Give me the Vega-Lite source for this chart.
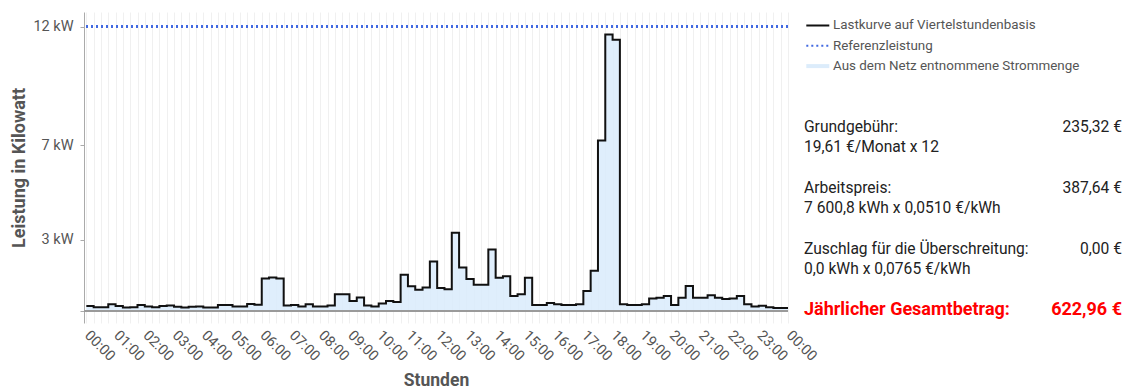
{
  "$schema": "https://vega.github.io/schema/vega-lite/v6.json",
  "padding": {"left": 10, "top": 12, "right": 8, "bottom": 0},
  "autosize": {"type": "pad"},
  "bounds": "flush",
  "spacing": 16,
  "config": {"font": "Roboto", "view": {"stroke": null}},
  "datasets": {
    "load": [
      {"h": 0, "kw": 0.20}, {"h": 0.25, "kw": 0.15}, {"h": 0.5, "kw": 0.15}, {"h": 0.75, "kw": 0.27},
      {"h": 1, "kw": 0.20}, {"h": 1.25, "kw": 0.13}, {"h": 1.5, "kw": 0.15}, {"h": 1.75, "kw": 0.24},
      {"h": 2, "kw": 0.18}, {"h": 2.25, "kw": 0.15}, {"h": 2.5, "kw": 0.20}, {"h": 2.75, "kw": 0.22},
      {"h": 3, "kw": 0.17}, {"h": 3.25, "kw": 0.14}, {"h": 3.5, "kw": 0.17}, {"h": 3.75, "kw": 0.18},
      {"h": 4, "kw": 0.14}, {"h": 4.25, "kw": 0.14}, {"h": 4.5, "kw": 0.24}, {"h": 4.75, "kw": 0.24},
      {"h": 5, "kw": 0.18}, {"h": 5.25, "kw": 0.18}, {"h": 5.5, "kw": 0.28}, {"h": 5.75, "kw": 0.25},
      {"h": 6, "kw": 1.36}, {"h": 6.25, "kw": 1.40}, {"h": 6.5, "kw": 1.36}, {"h": 6.75, "kw": 0.22},
      {"h": 7, "kw": 0.24}, {"h": 7.25, "kw": 0.18}, {"h": 7.5, "kw": 0.27}, {"h": 7.75, "kw": 0.18},
      {"h": 8, "kw": 0.18}, {"h": 8.25, "kw": 0.22}, {"h": 8.5, "kw": 0.69}, {"h": 8.75, "kw": 0.69},
      {"h": 9, "kw": 0.41}, {"h": 9.25, "kw": 0.56}, {"h": 9.5, "kw": 0.22}, {"h": 9.75, "kw": 0.18},
      {"h": 10, "kw": 0.30}, {"h": 10.25, "kw": 0.41}, {"h": 10.5, "kw": 0.37}, {"h": 10.75, "kw": 1.52},
      {"h": 11, "kw": 1.03}, {"h": 11.25, "kw": 0.89}, {"h": 11.5, "kw": 0.98}, {"h": 11.75, "kw": 2.08},
      {"h": 12, "kw": 0.96}, {"h": 12.25, "kw": 0.91}, {"h": 12.5, "kw": 3.29}, {"h": 12.75, "kw": 1.83},
      {"h": 13, "kw": 1.34}, {"h": 13.25, "kw": 1.10}, {"h": 13.5, "kw": 1.10}, {"h": 13.75, "kw": 2.59},
      {"h": 14, "kw": 1.39}, {"h": 14.25, "kw": 1.45}, {"h": 14.5, "kw": 0.62}, {"h": 14.75, "kw": 0.69},
      {"h": 15, "kw": 1.39}, {"h": 15.25, "kw": 0.24}, {"h": 15.5, "kw": 0.24}, {"h": 15.75, "kw": 0.32},
      {"h": 16, "kw": 0.27}, {"h": 16.25, "kw": 0.24}, {"h": 16.5, "kw": 0.24}, {"h": 16.75, "kw": 0.27},
      {"h": 17, "kw": 0.83}, {"h": 17.25, "kw": 1.69}, {"h": 17.5, "kw": 7.19}, {"h": 17.75, "kw": 11.67},
      {"h": 18, "kw": 11.45}, {"h": 18.25, "kw": 0.27}, {"h": 18.5, "kw": 0.24}, {"h": 18.75, "kw": 0.24},
      {"h": 19, "kw": 0.27}, {"h": 19.25, "kw": 0.52}, {"h": 19.5, "kw": 0.55}, {"h": 19.75, "kw": 0.62},
      {"h": 20, "kw": 0.24}, {"h": 20.25, "kw": 0.55}, {"h": 20.5, "kw": 1.04}, {"h": 20.75, "kw": 0.55},
      {"h": 21, "kw": 0.55}, {"h": 21.25, "kw": 0.65}, {"h": 21.5, "kw": 0.55}, {"h": 21.75, "kw": 0.49},
      {"h": 22, "kw": 0.52}, {"h": 22.25, "kw": 0.62}, {"h": 22.5, "kw": 0.27}, {"h": 22.75, "kw": 0.18},
      {"h": 23, "kw": 0.21}, {"h": 23.25, "kw": 0.15}, {"h": 23.5, "kw": 0.11}, {"h": 23.75, "kw": 0.11},
      {"h": 24, "kw": 0.11}
    ],
    "legend": [
      {"line": 0, "item": "Lastkurve auf Viertelstundenbasis"},
      {"line": 1, "item": "Referenzleistung"},
      {"line": 2, "item": "Aus dem Netz entnommene Strommenge"}
    ],
    "costs": [
      {"line": 5, "label": "Grundgebühr:", "amount": "235,32 €", "total": false},
      {"line": 6, "label": "19,61 €/Monat x 12", "amount": "", "total": false},
      {"line": 8, "label": "Arbeitspreis:", "amount": "387,64 €", "total": false},
      {"line": 9, "label": "7 600,8 kWh x 0,0510 €/kWh", "amount": "", "total": false},
      {"line": 11, "label": "Zuschlag für die Überschreitung:", "amount": "0,00 €", "total": false},
      {"line": 12, "label": "0,0 kWh x 0,0765 €/kWh", "amount": "", "total": false},
      {"line": 14, "label": "Jährlicher Gesamtbetrag:", "amount": "622,96 €", "total": true}
    ]
  },
  "hconcat": [
    {
      "width": 704,
      "height": 311,
      "data": {"name": "load"},
      "encoding": {
        "x": {
          "field": "h", "type": "quantitative",
          "scale": {"domain": [-0.08, 24], "nice": false, "zero": false},
          "axis": {
            "title": "Stunden",
            "titleFontSize": 17.5, "titleFontWeight": "bold", "titleColor": "#555", "titlePadding": 8,
            "values": [0,0.25,0.5,0.75,1,1.25,1.5,1.75,2,2.25,2.5,2.75,3,3.25,3.5,3.75,4,4.25,4.5,4.75,5,5.25,5.5,5.75,6,6.25,6.5,6.75,7,7.25,7.5,7.75,8,8.25,8.5,8.75,9,9.25,9.5,9.75,10,10.25,10.5,10.75,11,11.25,11.5,11.75,12,12.25,12.5,12.75,13,13.25,13.5,13.75,14,14.25,14.5,14.75,15,15.25,15.5,15.75,16,16.25,16.5,16.75,17,17.25,17.5,17.75,18,18.25,18.5,18.75,19,19.25,19.5,19.75,20,20.25,20.5,20.75,21,21.25,21.5,21.75,22,22.25,22.5,22.75,23,23.25,23.5,23.75,24],
            "labelExpr": "datum.value % 1 == 0 ? pad(toString(datum.value % 24), 2, '0', 'left') + ':00' : ''",
            "labelAngle": 45, "labelAlign": "left", "labelBaseline": "middle",
            "labelPadding": 10, "labelFontSize": 14.5, "labelColor": "#555",
            "labelOverlap": false, "labelFlush": false, "labelBound": false,
            "grid": true, "gridColor": "#f0f0f0", "gridWidth": 1,
            "ticks": false, "domain": false
          }
        },
        "y": {
          "field": "kw", "type": "quantitative",
          "scale": {"domain": [-0.52, 12.62], "nice": false, "zero": false},
          "axis": {
            "title": "Leistung in Kilowatt",
            "titleFontSize": 18, "titleFontWeight": "bold", "titleColor": "#555", "titlePadding": 4,
            "values": [0, 3, 7, 12],
            "labelExpr": "datum.value == 0 ? '' : datum.value + ' kW'",
            "labelFontSize": 14.5, "labelColor": "#555", "labelPadding": 7,
            "grid": false, "tickSize": 4, "tickColor": "#aaa", "domainColor": "#aaa"
          }
        }
      },
      "layer": [
        {
          "mark": {"type": "area", "interpolate": "step-after", "color": "#d9ebfc", "opacity": 0.85},
          "encoding": {"y2": {"datum": 0}}
        },
        {
          "mark": {"type": "rule", "color": "#9a9a9a", "strokeWidth": 1},
          "encoding": {"y": {"datum": 0}, "x": null}
        },
        {
          "mark": {"type": "line", "interpolate": "step-after", "color": "#111", "strokeWidth": 2}
        },
        {
          "mark": {"type": "rule", "color": "#4169e1", "strokeWidth": 2, "strokeDash": [2, 3]},
          "encoding": {"y": {"datum": 12}, "x": null}
        }
      ]
    },
    {
      "width": 318,
      "height": 311,
      "layer": [
        {
          "data": {"name": "legend"},
          "transform": [{"filter": "datum.line == 0"}],
          "mark": {"type": "point", "filled": false, "size": 529, "opacity": 1, "shape": "M-1,0H1", "stroke": "#111111", "strokeWidth": 2},
          "encoding": {
            "x": {"datum": 0.0434, "type": "quantitative", "scale": {"domain": [0, 1], "nice": false, "zero": false}, "axis": null},
            "y": {"field": "line", "type": "quantitative", "scale": {"domain": [-0.665, 14.655], "reverse": true, "nice": false, "zero": false}, "axis": null}
          }
        },
        {
          "data": {"name": "legend"},
          "transform": [{"filter": "datum.line == 1"}],
          "mark": {"type": "point", "filled": false, "size": 529, "opacity": 1, "shape": "M-1,0H1", "stroke": "#4169e1", "strokeWidth": 2, "strokeDash": [2, 3]},
          "encoding": {
            "x": {"datum": 0.0434, "type": "quantitative"},
            "y": {"field": "line", "type": "quantitative"}
          }
        },
        {
          "data": {"name": "legend"},
          "transform": [{"filter": "datum.line == 2"}],
          "mark": {"type": "point", "filled": false, "size": 529, "opacity": 1, "shape": "M-1,0H1", "stroke": "#dcecfb", "strokeWidth": 4},
          "encoding": {
            "x": {"datum": 0.0434, "type": "quantitative"},
            "y": {"field": "line", "type": "quantitative"}
          }
        },
        {
          "data": {"name": "legend"},
          "mark": {"type": "text", "align": "left", "baseline": "middle", "dx": 29, "fontSize": 13.4, "color": "#555"},
          "encoding": {
            "x": {"datum": 0, "type": "quantitative"},
            "y": {"field": "line", "type": "quantitative"},
            "text": {"field": "item"}
          }
        },
        {
          "data": {"name": "costs"},
          "transform": [{"filter": "!datum.total"}],
          "layer": [
            {
              "mark": {"type": "text", "align": "left", "baseline": "middle", "fontSize": 15.6, "color": "#222"},
              "encoding": {
                "x": {"datum": 0, "type": "quantitative"},
                "y": {"field": "line", "type": "quantitative"},
                "text": {"field": "label"}
              }
            },
            {
              "mark": {"type": "text", "align": "right", "baseline": "middle", "fontSize": 15.6, "color": "#222"},
              "encoding": {
                "x": {"datum": 1, "type": "quantitative"},
                "y": {"field": "line", "type": "quantitative"},
                "text": {"field": "amount"}
              }
            }
          ]
        },
        {
          "data": {"name": "costs"},
          "transform": [{"filter": "datum.total"}],
          "layer": [
            {
              "mark": {"type": "text", "align": "left", "baseline": "middle", "fontSize": 18, "fontWeight": "bold", "color": "#ff0000"},
              "encoding": {
                "x": {"datum": 0, "type": "quantitative"},
                "y": {"field": "line", "type": "quantitative"},
                "text": {"field": "label"}
              }
            },
            {
              "mark": {"type": "text", "align": "right", "baseline": "middle", "fontSize": 18, "fontWeight": "bold", "color": "#ff0000"},
              "encoding": {
                "x": {"datum": 1, "type": "quantitative"},
                "y": {"field": "line", "type": "quantitative"},
                "text": {"field": "amount"}
              }
            }
          ]
        }
      ]
    }
  ]
}
